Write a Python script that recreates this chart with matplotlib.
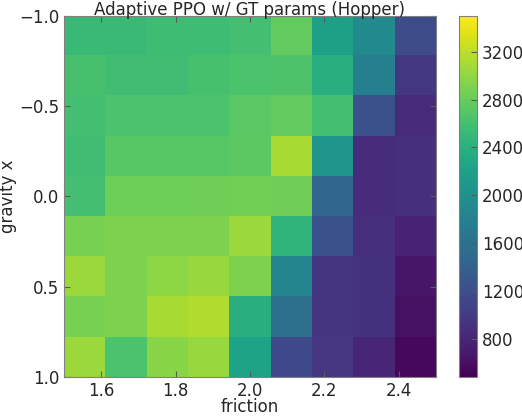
import numpy as np
import matplotlib
matplotlib.use("Agg")
import matplotlib.pyplot as plt

friction_range = [1.5, 2.5]
gravity_range = [-1.0, 1.0]
vmin, vmax = 480, 3500
cbar_ticks = [800, 1200, 1600, 2000, 2400, 2800, 3200]

# rows: gravity from -1 (top) to 1 (bottom); cols: friction from 1.5 to 2.5
rewards = np.array([
    [2530, 2530, 2560, 2560, 2600, 2775, 2200, 1930, 1175],
    [2620, 2570, 2570, 2620, 2640, 2660, 2380, 1780, 965],
    [2600, 2650, 2650, 2650, 2730, 2770, 2600, 1235, 840],
    [2570, 2720, 2720, 2720, 2740, 3100, 2050, 860, 890],
    [2594, 2830, 2830, 2850, 2860, 2850, 1480, 860, 890],
    [2880, 2900, 2900, 2900, 3040, 2440, 1240, 890, 780],
    [3050, 2900, 2990, 3030, 2900, 1840, 950, 920, 660],
    [2880, 2900, 3100, 3140, 2380, 1600, 950, 920, 620],
    [3050, 2650, 2960, 3030, 2230, 1145, 960, 810, 540],
])

fig = plt.figure(figsize=(5.22, 4.16), dpi=100)
ax = fig.add_axes([0.1226, 0.0938, 0.7126, 0.8678])
cax = fig.add_axes([0.879, 0.0938, 0.0345, 0.8678])

im = ax.imshow(rewards, cmap='viridis', vmin=vmin, vmax=vmax, aspect='auto',
               interpolation='nearest',
               extent=[friction_range[0], friction_range[1], gravity_range[1], gravity_range[0]])
ax.set_xticks([1.6, 1.8, 2.0, 2.2, 2.4])
ax.set_yticks([-1.0, -0.5, 0.0, 0.5, 1.0])
ax.set_yticklabels(['\u22121.0', '\u22120.5', '0.0', '0.5', '1.0'])
ax.tick_params(direction='in', top=True, right=True, labelsize=12,
               length=4, width=0.8, color='0.35', labelcolor='#262626')
for s in ax.spines.values():
    s.set_color('0.5')
ax.set_xlabel('friction', fontsize=12, color='#262626', labelpad=-1)
ax.set_ylabel('gravity x', fontsize=12, color='#262626', labelpad=1)
ax.set_title('Adaptive PPO w/ GT params (Hopper)', fontsize=12, color='#262626', pad=1)

cb = fig.colorbar(im, cax=cax, ticks=cbar_ticks)
cb.outline.set_edgecolor('0.5')
cax.tick_params(direction='in', labelsize=12, length=4, width=0.8, color='0.35', labelcolor='#262626')

fig.savefig('out.png', dpi=100)
